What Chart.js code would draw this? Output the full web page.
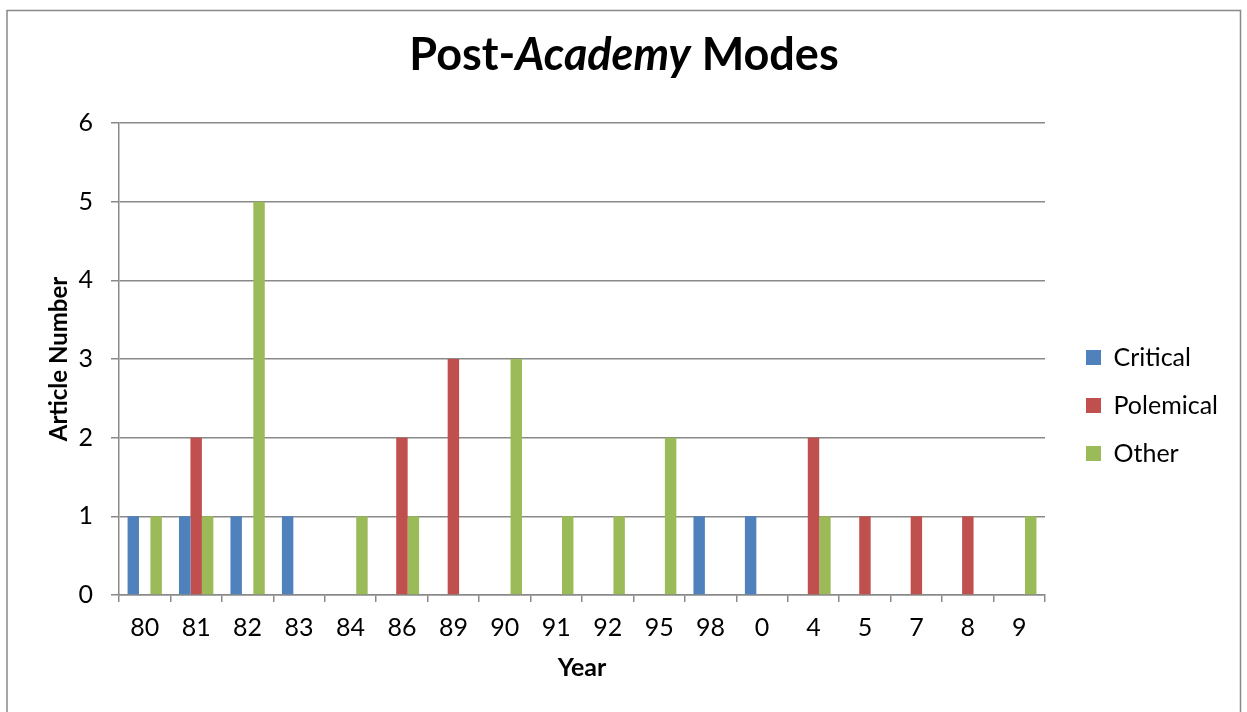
<!DOCTYPE html>
<html>
<head>
<meta charset="utf-8">
<title>Post-Academy Modes</title>
<script src="https://cdn.jsdelivr.net/npm/chart.js@4.4.0/dist/chart.umd.min.js"></script>
<style>
  html, body { margin: 0; padding: 0; background: #fff; }
  canvas { display: block; }
</style>
</head>
<body>
<canvas id="modesChart" width="1247" height="712"></canvas>
<script>
// Values
var years     = ['80', '81', '82', '83', '84', '86', '89', '90', '91', '92', '95', '98', '0', '4', '5', '7', '8', '9'];
var critical  = [1, 1, 1, 1, 0, 0, 0, 0, 0, 0, 0, 1, 1, 0, 0, 0, 0, 0];
var polemical = [0, 2, 0, 0, 0, 2, 3, 0, 0, 0, 0, 0, 0, 2, 1, 1, 1, 0];
var other     = [1, 1, 5, 0, 1, 1, 0, 3, 1, 1, 2, 0, 0, 1, 0, 0, 0, 1];
var yMin = 0;
var yMax = 6;

var FONT = 'Lato';
var GRAY = '#898989';

// Title has an italic word in the middle, so draw it in pieces
var titleParts = [
    { text: 'Post-', style: 'bold' },
    { text: 'Academy', style: 'italic bold' },
    { text: ' Modes', style: 'bold' }
];

var frameAndTitle = {
    id: 'frameAndTitle',
    afterInit: function (chart) {
        // fixed legend column so the plot ends where the original does
        var legend = chart.legend;
        var fit = legend.fit;
        legend.fit = function () {
            fit.call(this);
            this.width = 202;
        };
    },
    afterLayout: function (chart) {
        chart.legend.left += 18;
        chart.legend.right += 18;
    },
    beforeDraw: function (chart) {
        var ctx = chart.ctx;
        ctx.save();
        ctx.fillStyle = '#fff';
        ctx.fillRect(0, 0, chart.width, chart.height);
        ctx.strokeStyle = GRAY;
        ctx.lineWidth = 1.5;
        ctx.beginPath();
        ctx.moveTo(7, chart.height + 2);
        ctx.lineTo(7, 10.5);
        ctx.lineTo(1240.5, 10.5);
        ctx.lineTo(1240.5, chart.height + 2);
        ctx.stroke();
        ctx.restore();
    },
    afterDraw: function (chart) {
        var ctx = chart.ctx;
        ctx.save();
        ctx.fillStyle = '#000';
        ctx.textBaseline = 'alphabetic';
        var total = 0;
        titleParts.forEach(function (p) {
            ctx.font = p.style + ' 45px ' + FONT;
            p.w = ctx.measureText(p.text).width;
            total += p.w;
        });
        var x = 624 - total / 2;
        titleParts.forEach(function (p) {
            ctx.font = p.style + ' 45px ' + FONT;
            ctx.fillText(p.text, x, 70);
            x += p.w;
        });
        ctx.restore();
    }
};

var ctx = document.getElementById('modesChart').getContext('2d');

var modesChart = new Chart(ctx, {
    type: 'bar',
    data: {
        labels: years,
        datasets: [
            { label: 'Critical',  data: critical,  backgroundColor: '#4F81BD' },
            { label: 'Polemical', data: polemical, backgroundColor: '#C0504D' },
            { label: 'Other',     data: other,     backgroundColor: '#9BBB59' }
        ]
    },
    options: {
        responsive: false,
        animation: false,
        layout: {
            padding: { top: 123, left: 40, right: 0, bottom: 24 }
        },
        datasets: {
            bar: {
                categoryPercentage: 0.667,
                barPercentage: 1.0,
                borderWidth: 0
            }
        },
        plugins: {
            tooltip: { enabled: false },
            legend: {
                position: 'right',
                labels: {
                    color: '#000',
                    font: { family: FONT, size: 25 },
                    boxWidth: 15,
                    boxHeight: 15,
                    padding: 23
                }
            }
        },
        scales: {
            x: {
                afterFit: function (scale) { scale.height = 93; },
                grid: {
                    drawOnChartArea: false,
                    drawTicks: true,
                    tickLength: 7,
                    color: GRAY,
                    lineWidth: 1.5,
                    offset: true
                },
                border: { color: GRAY, width: 1.5 },
                ticks: {
                    color: '#000',
                    font: { family: FONT, size: 25 },
                    padding: 11,
                    maxRotation: 0,
                    autoSkip: false
                },
                title: {
                    display: true,
                    text: 'Year',
                    color: '#000',
                    font: { family: FONT, size: 25, weight: 'bold' },
                    padding: { top: 0, bottom: 5 }
                }
            },
            y: {
                min: yMin,
                max: yMax,
                afterFit: function (scale) { scale.width = 79; },
                grid: {
                    color: GRAY,
                    lineWidth: 1.5,
                    drawTicks: true,
                    tickLength: 8
                },
                border: { color: GRAY, width: 1.5 },
                ticks: {
                    stepSize: 1,
                    color: '#000',
                    font: { family: FONT, size: 25 },
                    padding: 18
                },
                title: {
                    display: true,
                    text: 'Article Number',
                    color: '#000',
                    font: { family: FONT, size: 24, weight: 'bold' },
                    padding: { top: 5, bottom: 0 }
                }
            }
        }
    },
    plugins: [frameAndTitle]
});
</script>
</body>
</html>
